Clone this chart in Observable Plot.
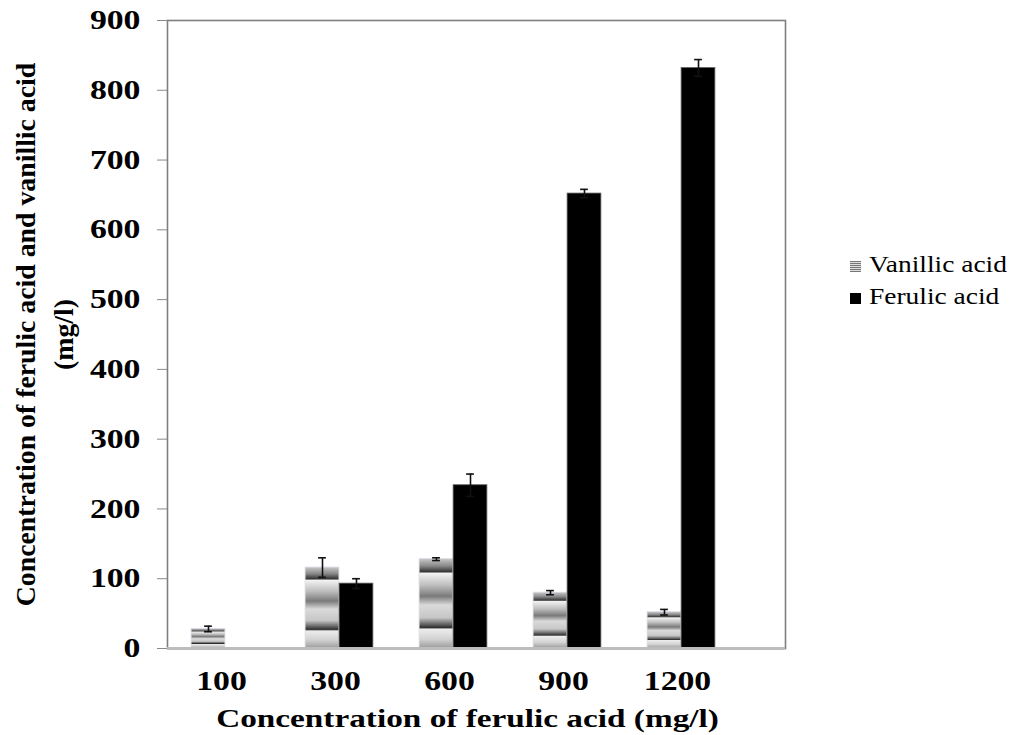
<!DOCTYPE html>
<html><head><meta charset="utf-8">
<script src="https://cdn.jsdelivr.net/npm/d3@7"></script>
<script src="https://cdn.jsdelivr.net/npm/@observablehq/plot@0.6"></script>
<style>
body{margin:0;background:#fff;}
#wrap{position:relative;width:1011px;height:735px;overflow:hidden;}
#wrap svg text{font-family:"Liberation Serif","Times New Roman",serif;}
.leg{position:absolute;left:850px;font-family:"Liberation Serif","Times New Roman",serif;font-size:22.5px;color:#000;white-space:nowrap;}
.leg span.sw{display:inline-block;width:11px;height:11px;margin-right:8px;vertical-align:0px;}
.leg span.tx{display:inline-block;transform:scaleX(1.22);transform-origin:left center;}
</style></head><body>
<svg width="0" height="0" style="position:absolute">
<defs>
<linearGradient id="vgrad" x1="0" y1="0" x2="0" y2="1">
<stop offset="0" stop-color="#c8c8c8"/>
<stop offset="0.08" stop-color="#8a8a8a"/>
<stop offset="0.145" stop-color="#363636"/>
<stop offset="0.165" stop-color="#f2f2f2"/>
<stop offset="0.30" stop-color="#bdbdbd"/>
<stop offset="0.42" stop-color="#7a7a7a"/>
<stop offset="0.52" stop-color="#dadada"/>
<stop offset="0.66" stop-color="#c6c6c6"/>
<stop offset="0.745" stop-color="#555"/>
<stop offset="0.77" stop-color="#2e2e2e"/>
<stop offset="0.79" stop-color="#ececec"/>
<stop offset="0.9" stop-color="#d2d2d2"/>
<stop offset="1" stop-color="#9c9c9c"/>
</linearGradient>
</defs></svg>
<div id="wrap"></div>
<script>
const categories = ["100", "300", "600", "900", "1200"];
const seriesNames = ["Vanillic acid", "Ferulic acid"];
const vanillic = [28, 116, 128, 80, 52];
const vanillicErr = [4, 14, 2, 3, 4];
const ferulic = [0, 93, 234, 652, 832];
const ferulicErr = [0, 7, 16, 6, 12];
const yTicks = [0, 100, 200, 300, 400, 500, 600, 700, 800, 900];
const xTitle = "Concentration of ferulic acid (mg/l)";
const yTitle1 = "Concentration of ferulic acid and vanillic acid";
const yTitle2 = "(mg/l)";

const rows = [];
categories.forEach((c, i) => {
  rows.push({cat: c, series: seriesNames[0], value: vanillic[i], err: vanillicErr[i]});
  rows.push({cat: c, series: seriesNames[1], value: ferulic[i], err: ferulicErr[i]});
});
const vRows = rows.filter(d => d.series === seriesNames[0]);
const fRows = rows.filter(d => d.series === seriesNames[1]);

const W = 1011, H = 735;
const mL = 167, mR = 226, mT = 20, mB = 87;
const xRange = [167, 738];
const bw = (xRange[1] - xRange[0]) / categories.length;
const barW = 34, capW = 8;
const half = bw / 2;
const serif = "Liberation Serif, Times New Roman, serif";

function errMarks(data, side) {
  const off = side * barW / 2;
  const c = half + off;
  const withErr = data.filter(d => d.err > 0);
  return [
    Plot.ruleX(withErr, {x: "cat", y1: d => d.value - d.err, y2: d => d.value + d.err, dx: off, stroke: "#111", strokeWidth: 1.6}),
    Plot.tickY(withErr, {x: "cat", y: d => d.value + d.err, insetLeft: c - capW / 2, insetRight: bw - c - capW / 2, stroke: "#111", strokeWidth: 1.6}),
    Plot.tickY(withErr, {x: "cat", y: d => d.value - d.err, insetLeft: c - capW / 2, insetRight: bw - c - capW / 2, stroke: "#111", strokeWidth: 1.6})
  ];
}

const chart = Plot.plot({
  width: W, height: H,
  marginLeft: mL, marginRight: mR, marginTop: mT, marginBottom: mB,
  style: {fontFamily: serif, background: "white", overflow: "visible"},
  x: {type: "band", domain: categories, range: xRange, padding: 0},
  y: {domain: [0, 900]},
  marks: [
    Plot.barY(vRows, {x: "cat", y: "value", fill: "url(#vgrad)", stroke: "#d6dbe6", strokeWidth: 0.8, insetLeft: half - barW, insetRight: half}),
    Plot.barY(fRows, {x: "cat", y: "value", fill: "#000", stroke: "#666", strokeWidth: 0.8, insetLeft: half, insetRight: half - barW}),
    ...errMarks(vRows, -1),
    ...errMarks(fRows, 1),
    Plot.frame({stroke: "#7f7f7f", strokeWidth: 1.6}),
    Plot.ruleY([0], {stroke: "#bdbdbd", strokeWidth: 3}),
    Plot.axisY({ticks: yTicks, tickSize: 10, tickPadding: 17, stroke: "#8a8a8a", fontSize: 27, fontWeight: "bold", fontFamily: serif, fill: "#000", label: null}),
    Plot.axisX({tickSize: 0, tickPadding: 22, dx: -4, fontSize: 27, fontWeight: "bold", fontFamily: serif, fill: "#000", label: null}),
    Plot.text([xTitle], {frameAnchor: "bottom", dy: 78, dx: -9, fontSize: 26, fontWeight: "bold", fontFamily: serif, fill: "#000", className: "stretch"}),
    Plot.text([yTitle1], {frameAnchor: "left", textAnchor: "middle", rotate: -90, dx: -141, fontSize: 27.8, fontWeight: "bold", fontFamily: serif, fill: "#000"}),
    Plot.text([yTitle2], {frameAnchor: "left", textAnchor: "middle", rotate: -90, dx: -103, fontSize: 27.8, fontWeight: "bold", fontFamily: serif, fill: "#000"})
  ]
});

d3.select(chart).selectAll("text").style("font-family", serif);
// horizontal stretch of glyphs (as in the reference rendering)
d3.select(chart).selectAll("g[aria-label='y-axis tick label'] text, g[aria-label='x-axis tick label'] text").each(function() {
  const t = this.getAttribute("transform") || "";
  this.setAttribute("transform", t + " scale(1.25,1)");
});
d3.select(chart).selectAll("g.stretch text").each(function() {
  const t = this.getAttribute("transform") || "";
  this.setAttribute("transform", t + " scale(1.28,1)");
});

const wrap = document.getElementById("wrap");
wrap.appendChild(chart);

const legItems = [
  {name: seriesNames[0], bg: "repeating-linear-gradient(to bottom,#777 0px,#777 1px,#ddd 1px,#ddd 2px)", top: 252},
  {name: seriesNames[1], bg: "#000", top: 284}
];
legItems.forEach(it => {
  const div = document.createElement("div");
  div.className = "leg";
  div.style.top = it.top + "px";
  div.innerHTML = `<span class="sw" style="background:${it.bg}"></span><span class="tx"></span>`;
  div.querySelector(".tx").textContent = it.name;
  wrap.appendChild(div);
});
</script>
</body></html>
